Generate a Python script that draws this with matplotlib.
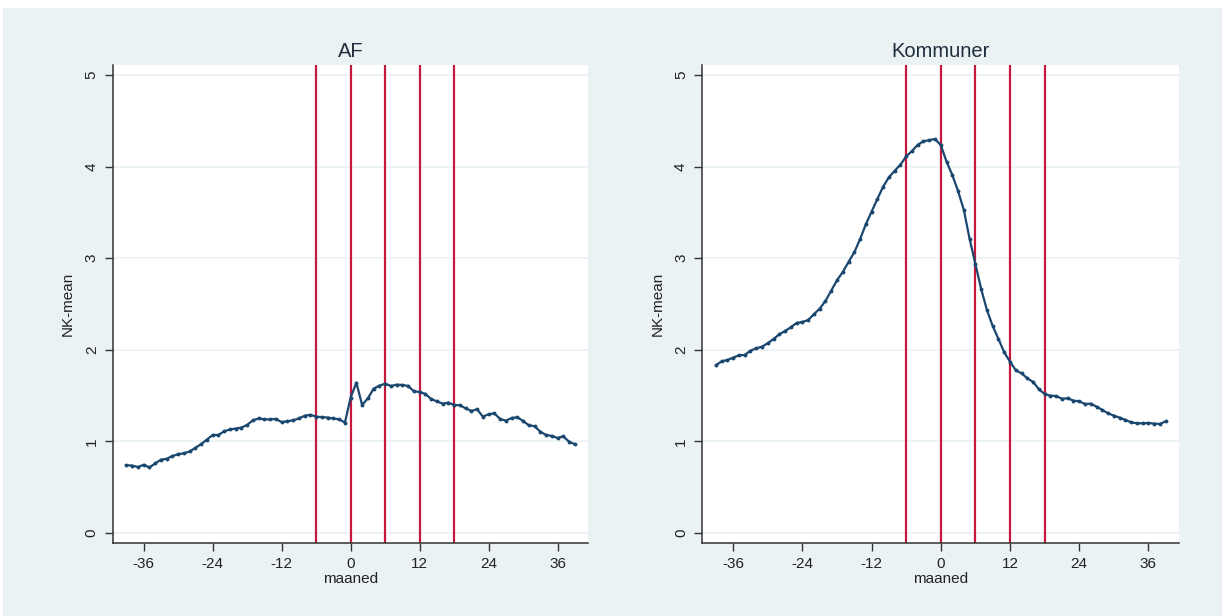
import matplotlib
matplotlib.use("Agg")
import matplotlib.pyplot as plt
from matplotlib.patches import Rectangle

plt.rcParams['font.family'] = ['Liberation Sans', 'DejaVu Sans']

months = list(range(-39, 40))

af_mean = [
    0.74, 0.735, 0.72, 0.745, 0.715, 0.76, 0.80, 0.81, 0.84, 0.86,
    0.87, 0.89, 0.93, 0.97, 1.02, 1.07, 1.07, 1.11, 1.13, 1.14,
    1.15, 1.18, 1.23, 1.25, 1.24, 1.24, 1.245, 1.21, 1.22, 1.23,
    1.25, 1.28, 1.29, 1.27, 1.265, 1.26, 1.25, 1.24, 1.205,
    1.478, 1.641, 1.397, 1.470, 1.576, 1.608, 1.630, 1.605, 1.619, 1.616,
    1.605, 1.547, 1.539, 1.518, 1.463, 1.437, 1.412, 1.423, 1.397, 1.394,
    1.361, 1.332, 1.350, 1.270, 1.296, 1.306, 1.245, 1.226, 1.255, 1.263,
    1.223, 1.176, 1.165, 1.106, 1.070, 1.059, 1.037, 1.055, 0.997, 0.968,
]

kommuner_mean = [
    1.830, 1.874, 1.889, 1.914, 1.940, 1.943, 1.990, 2.016, 2.034, 2.071,
    2.118, 2.169, 2.205, 2.246, 2.293, 2.303, 2.325, 2.388, 2.449, 2.533,
    2.645, 2.759, 2.849, 2.958, 3.064, 3.207, 3.370, 3.508, 3.646, 3.781,
    3.883, 3.955, 4.021, 4.112, 4.170, 4.239, 4.276, 4.290, 4.301,
    4.236, 4.054, 3.908, 3.733, 3.526, 3.210, 2.937, 2.664, 2.434, 2.260,
    2.118, 1.972, 1.870, 1.776, 1.743, 1.689, 1.649, 1.570, 1.517, 1.499,
    1.495, 1.466, 1.470, 1.445, 1.437, 1.408, 1.412, 1.379, 1.343, 1.306,
    1.281, 1.259, 1.234, 1.208, 1.197, 1.197, 1.201, 1.194, 1.190, 1.219,
]

vlines = [-6, 0, 6, 12, 18]
xticks = [-36, -24, -12, 0, 12, 24, 36]
yticks = [0, 1, 2, 3, 4, 5]
titles = ["AF", "Kommuner"]
series = [af_mean, kommuner_mean]

W, H = 1224, 616
fig = plt.figure(figsize=(W / 100, H / 100), dpi=100, facecolor='white')
bg = '#EAF2F3'
fig.patches.append(Rectangle((3 / W, 0), (W - 5) / W, (H - 8) / H,
                             transform=fig.transFigure, facecolor=bg,
                             edgecolor='none', zorder=-10))

line_col = '#1A476F'
red_col = '#C8173C'
grid_col = '#EAF2F3'
spine_col = '#333333'

positions = [
    [112.7 / W, 1 - 543 / H, (588 - 112.7) / W, (543 - 65) / H],
    [702 / W, 1 - 543 / H, (1179 - 702) / W, (543 - 65) / H],
]

for pos, title, vals in zip(positions, titles, series):
    ax = fig.add_axes(pos)
    ax.set_facecolor('white')
    ax.set_xlim(-41.4, 41.3)
    ax.set_ylim(-0.11, 5.11)
    for y in yticks:
        ax.axhline(y, color=grid_col, lw=1.2, zorder=0)
    for v in vlines:
        ax.axvline(v, color=red_col, lw=1.6, zorder=2)
    ax.plot(months, vals, color=line_col, lw=1.6, marker='o', ms=2.8,
            markeredgewidth=0, zorder=3)
    ax.set_xticks(xticks)
    ax.set_xticklabels([str(t) for t in xticks], fontsize=11, color='#222222')
    ax.set_yticks(yticks)
    ax.set_yticklabels([str(t) for t in yticks], fontsize=11, color='#222222',
                       rotation=90, va='center')
    ax.tick_params(direction='out', length=6, width=1.0, color=spine_col, pad=4)
    for s in ['top', 'right']:
        ax.spines[s].set_visible(False)
    for s in ['left', 'bottom']:
        ax.spines[s].set_color(spine_col)
        ax.spines[s].set_linewidth(1.1)
    ax.set_xlabel('maaned', fontsize=11, color='#222222', labelpad=1)
    ax.set_ylabel('NK-mean', fontsize=11, color='#222222', labelpad=7)
    ax.set_title(title, fontsize=14.5, color='#1F2D3D', pad=6)

fig.savefig('out.png', dpi=100, facecolor='white')
